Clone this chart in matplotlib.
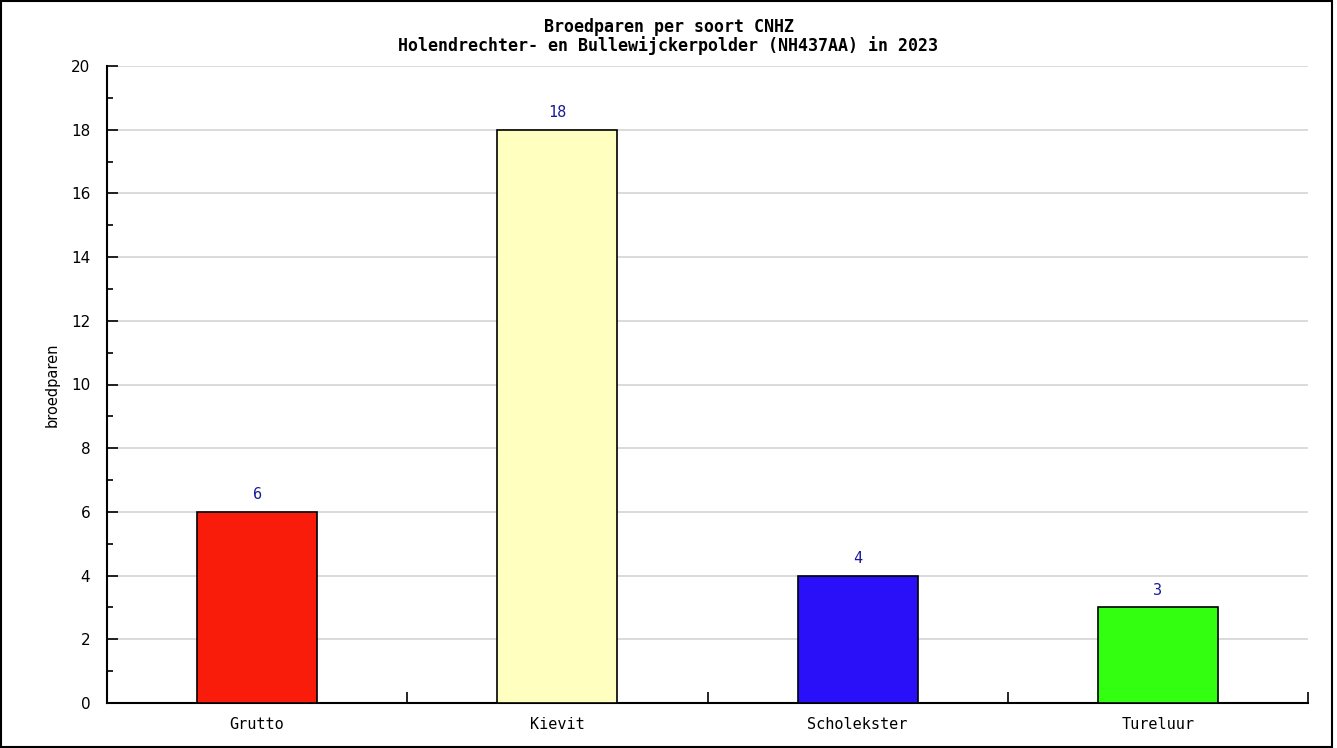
import matplotlib.pyplot as plt
from matplotlib.patches import Rectangle

soorten = ['Grutto', 'Kievit', 'Scholekster', 'Tureluur']
broedparen = [6, 18, 4, 3]
kleuren = ['#f91c0a', '#ffffc0', '#2a10f9', '#33ff10']
yticks = [0, 2, 4, 6, 8, 10, 12, 14, 16, 18, 20]

mono = 'DejaVu Sans Mono'

fig = plt.figure(figsize=(13.37, 7.48), dpi=100)
ax = fig.add_axes([107 / 1337, 1 - 703 / 748, (1308 - 107) / 1337, (703 - 66) / 748])

x = list(range(len(soorten)))
bars = ax.bar(x, broedparen, width=0.4, color=kleuren, edgecolor='black', linewidth=1.2, zorder=3)

# waarden boven de staven
for xi, v in zip(x, broedparen):
    ax.text(xi, v + 0.3, str(v), ha='center', va='bottom', color='#1a1a9a',
            fontsize=11, family=mono, zorder=4)

ax.set_xlim(-0.5, len(soorten) - 0.5)
ax.set_ylim(0, 20)
ax.set_yticks(yticks)
ax.set_yticks(range(1, 20, 2), minor=True)
ax.tick_params(axis='y', which='major', direction='in', length=8, width=1.2, labelsize=11, pad=12)
ax.tick_params(axis='y', which='minor', direction='in', length=4, width=1.2)
ax.yaxis.grid(True, color='#d4d4d4', linewidth=1.2, zorder=0)

# categorienamen, ticks op de grenzen
ax.set_xticks([i + 0.5 for i in x])
ax.set_xticklabels([])
ax.tick_params(axis='x', which='major', direction='in', length=8, width=1.2)
for xi, s in zip(x, soorten):
    ax.text(xi, -0.45, s, ha='center', va='top', fontsize=11, family=mono,
            transform=ax.transData)

for side in ['top', 'right']:
    ax.spines[side].set_visible(False)
for side in ['left', 'bottom']:
    ax.spines[side].set_linewidth(1.5)

ax.set_ylabel('broedparen', fontsize=10.5, labelpad=8)

fig.text(0.5, 1 - 27 / 748, 'Broedparen per soort CNHZ', ha='center', va='center',
         fontsize=12, family=mono, weight='bold')
fig.text(0.5, 1 - 46 / 748, 'Holendrechter- en Bullewijckerpolder (NH437AA) in 2023',
         ha='center', va='center', fontsize=12, family=mono, weight='bold')

# kader rond de figuur
fig.patches.append(Rectangle((0.001, 0.002), 0.995, 0.996, transform=fig.transFigure,
                             fill=False, edgecolor='black', linewidth=1.5))

fig.savefig('out.png', dpi=100)
